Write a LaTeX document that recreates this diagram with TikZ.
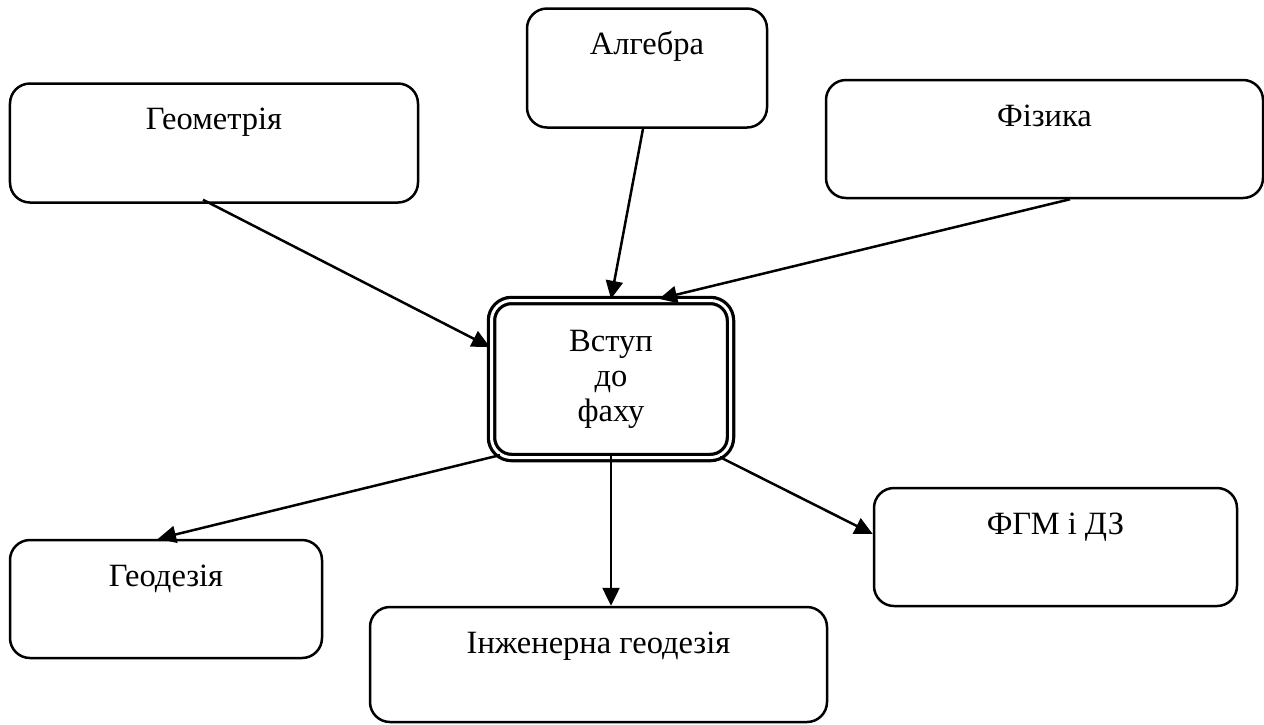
\documentclass[tikz,border=0pt]{standalone}
\usepackage{fontspec}
\setmainfont{Liberation Serif}
\usepackage{tikz}
\usetikzlibrary{positioning}
\usetikzlibrary{arrows.meta}

\tikzset{
  subj/.style={draw, line width=0.05cm, rounded corners=0.4cm, inner sep=0pt,
    text height=0.92cm, text depth=#1},
  subj/.default=1.46cm,
  core/.style={draw, line width=0.065cm, double, double distance=0.06cm,
    rounded corners=0.4cm, align=center, inner sep=0pt,
    minimum width=4.78cm, minimum height=3.14cm},
  link/.style={line width=0.05cm, -{Triangle[length=0.36cm, width=0.34cm]}}
}

\begin{document}
\begin{tikzpicture}[font=\fontsize{18.5}{20}\selectfont]
            \useasboundingbox (0,0) rectangle (25.28,-14.48);
            % Upper row
            \node[subj, minimum width=8.16cm] (geom) at (4.28,-2.86) {Геометрія};
            \node[subj, minimum width=4.80cm] (alg) at (12.94,-1.36) {Алгебра};
            \node[subj=1.44cm, minimum width=8.74cm] (fiz) at (20.89,-2.78) {Фізика};
            % Centre
            \node[core] (vstup) at (12.22,-7.58) {Вступ\\до\\фаху};
            % Lower row
            \node[subj=1.44cm, minimum width=6.24cm] (geod) at (3.32,-11.98) {Геодезія};
            \node[subj=1.38cm, minimum width=9.14cm] (inzh) at (11.97,-13.29) {Інженерна геодезія};
            \node[subj=1.44cm, minimum width=7.26cm] (fgm) at (21.11,-10.94) {ФГМ і ДЗ};
            % Arrows in
            \draw[link] ([xshift=-0.22cm,yshift=0.08cm]geom.south) -- ([yshift=0.64cm]vstup.west);
            \draw[link] ([xshift=-0.08cm]alg.south) -- (vstup.north);
            \draw[link] ([xshift=0.51cm]fiz.south) -- ([xshift=0.96cm]vstup.north);
            % Arrows out
            \draw[link] ([xshift=-2.22cm,yshift=0.08cm]vstup.south) -- ([xshift=-0.16cm]geod.north);
            \draw[link] ([yshift=0.08cm]vstup.south) -- (vstup.south |- inzh.north);
            \draw[link] ([xshift=2.18cm,yshift=0.04cm]vstup.south) -- ([yshift=0.26cm]fgm.west);
        \end{tikzpicture}
\end{document}
